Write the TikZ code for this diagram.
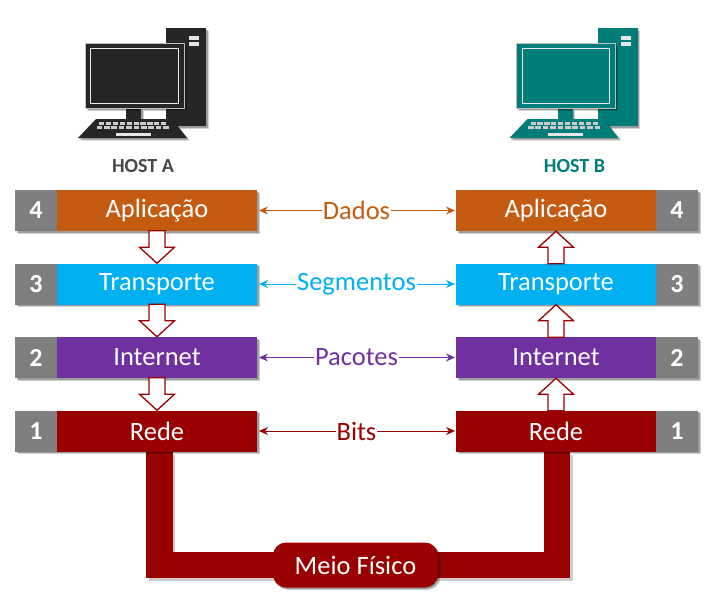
\documentclass[tikz,border=0pt]{standalone}
\usepackage{fontspec}
\setmainfont{Carlito}
\usetikzlibrary{shadows,arrows.meta,backgrounds,calc}
\definecolor{cOrange}{HTML}{C55A11}
\definecolor{cBlue}{HTML}{00B0F0}
\definecolor{cPurple}{HTML}{7030A0}
\definecolor{cRed}{HTML}{990000}
\definecolor{cGray}{HTML}{7F7F7F}
\definecolor{cDark}{HTML}{262626}
\definecolor{cTeal}{HTML}{007D78}
\tikzset{
  softshadow/.style={drop shadow={shadow xshift=2.5pt,shadow yshift=-2.5pt,opacity=.18,fill=black},
                     drop shadow={shadow xshift=1.5pt,shadow yshift=-1.5pt,opacity=.25,fill=black}},
  layerbox/.style={fill=#1,text=white,minimum width=200pt,minimum height=41pt,inner sep=0pt,outer sep=0pt,font=\fontsize{26.5}{28}\selectfont,softshadow},
  numbox/.style={fill=cGray,text=white,minimum width=42pt,minimum height=41pt,inner sep=0pt,outer sep=0pt,font=\fontsize{26}{28}\selectfont\bfseries,softshadow},
  link/.style={draw=#1,line width=1pt,{Stealth[length=9pt,width=8pt]}-{Stealth[length=9pt,width=8pt]},shorten <=2pt,shorten >=1pt},
  linklabel/.style={fill=white,text=#1,inner sep=1pt,font=\fontsize{26.5}{28}\selectfont},
  pipe/.style={draw=cRed,line width=26.5pt,line join=miter,line cap=butt},
  pipeshadow/.style={draw=black,line width=26.5pt,line join=miter,opacity=.2},
  hostlabel/.style={text=#1,font=\fontsize{20}{22}\selectfont\bfseries,inner sep=0pt},
  pics/hollowarrow/.style={code={
    \draw[cRed,fill=white,line width=1.3pt,line join=miter]
      (-8,-16.5) -- (8,-16.5) -- (8,0) -- (17.5,0) -- (0,16) -- (-17.5,0) -- (-8,0) -- cycle;
  }},
  pics/computer/.style={code={
    \fill[#1,softshadow] (81,0) rectangle (121,98);
    \fill[white!90!black] (104,8) rectangle (114,12);
    \fill[white!90!black] (104,14) rectangle (114,18);
    \fill[#1,softshadow] (41,80) rectangle (56,92);
    \fill[#1,draw=white!75!black,line width=.8pt,softshadow] (0,15) rectangle (99,80);
    \draw[white!92!black,line width=1pt] (5.5,20.5) rectangle (93,75);
    \fill[#1,softshadow] (11,91) -- (87,91) -- (102,110) -- (-7,110) -- cycle;
    \foreach \k in {0,...,9}{
      \fill[white!80!black] ({14+\k*6.9},94) rectangle ++(5.2,2.8);
      \fill[white!80!black] ({11.5+\k*7.4},98.3) rectangle ++(5.6,3);
    }
    \fill[white!90!black] (31,105) rectangle (66,108);
  }}
}
\begin{document}
\begin{tikzpicture}[x=1pt,y=-1pt]
\useasboundingbox (0,0) rectangle (717,606);
% computers
\pic at (85,28) {computer=cDark};
\pic at (516.5,28) {computer=cTeal};
\node[hostlabel=cDark!85!white] (hostA) at (143,166) {HOST A};
\node[hostlabel=cTeal] (hostB) at (574.5,166) {HOST B};
% left stack: numbers first, so that their shadow falls under the coloured boxes' edge
\node[numbox] (n4A) at (36,210.5) {4};
\node[numbox] (n3A) at (36,284)   {3};
\node[numbox] (n2A) at (36,357.5) {2};
\node[numbox] (n1A) at (36,431)   {1};
\node[layerbox=cOrange] (appA)   at (157,210.5) {Aplicação};
\node[layerbox=cBlue]   (transA) at (157,284)   {Transporte};
\node[layerbox=cPurple] (netA)   at (157,357.5) {Internet};
\node[layerbox=cRed]    (redeA)  at (157,431)   {Rede};
% right stack
\node[layerbox=cOrange] (appB)   at (556,210.5) {Aplicação};
\node[layerbox=cBlue]   (transB) at (556,284)   {Transporte};
\node[layerbox=cPurple] (netB)   at (556,357.5) {Internet};
\node[layerbox=cRed]    (redeB)  at (556,431)   {Rede};
\node[numbox,anchor=west] (n4B) at (appB.east)   {4};
\node[numbox,anchor=west] (n3B) at (transB.east) {3};
\node[numbox,anchor=west] (n2B) at (netB.east)   {2};
\node[numbox,anchor=west] (n1B) at (redeB.east)  {1};
% hollow arrows
\pic at ($(appA.south)!.5!(transA.north)$) {hollowarrow};
\pic at ($(transA.south)!.5!(netA.north)$) {hollowarrow};
\pic at ($(netA.south)!.5!(redeA.north)$) {hollowarrow};
\pic[rotate=180] at ($(appB.south)!.5!(transB.north)$) {hollowarrow};
\pic[rotate=180] at ($(transB.south)!.5!(netB.north)$) {hollowarrow};
\pic[rotate=180] at ($(netB.south)!.5!(redeB.north)$) {hollowarrow};
% peer links
\draw[link=cOrange] (appA.east) -- node[linklabel=cOrange] (lDados) {Dados} (appB.west);
\draw[link=cBlue] (transA.east) -- node[linklabel=cBlue] (lSeg) {Segmentos} (transB.west);
\draw[link=cPurple] (netA.east) -- node[linklabel=cPurple] (lPac) {Pacotes} (netB.west);
\draw[link=cRed] (redeA.east) -- node[linklabel=cRed] (lBits) {Bits} (redeB.west);
% physical medium
\node[fill=cRed,text=white,rounded corners=13pt,minimum width=165pt,minimum height=45pt,inner sep=0pt,
      font=\fontsize{26.5}{28}\selectfont,softshadow] (meio) at (355.5,565) {Meio Físico};
\coordinate (pL) at (159.5,452);
\coordinate (pR) at (557,452);
\begin{pgfonlayer}{background}
  \draw[pipeshadow] ([shift={(2.5,2.5)}]pL) |- ([shift={(0,2.5)}]meio.center) -| ([shift={(2.5,2.5)}]pR);
  \draw[pipe] (pL) |- (meio.center) -| (pR);
\end{pgfonlayer}
\end{tikzpicture}
\end{document}
